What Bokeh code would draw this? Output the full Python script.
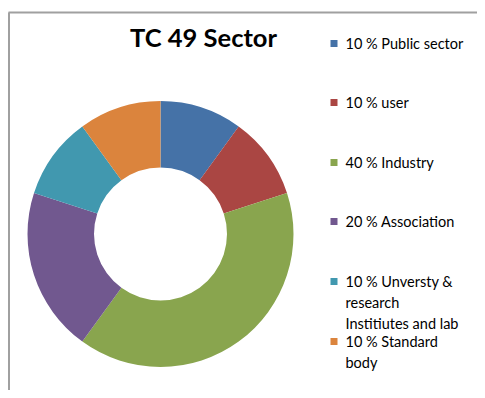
from math import pi
from bokeh.plotting import figure
from bokeh.models import Range1d, ColumnDataSource
from bokeh.core.properties import value
from bokeh.embed import file_html
from bokeh.resources import INLINE

# ---- data ----
title = "TC 49 Sector"
labels = [
    "10 % Public sector",
    "10 % user",
    "40 % Industry",
    "20 % Association",
    "10 % Unversty &\nresearch\nInstitiutes and lab",
    "10 % Standard\nbody",
]
shares = [10, 10, 40, 20, 10, 10]
colors = ["#4572A7", "#AA4643", "#89A54E", "#71588F", "#4198AF", "#DB843D"]

W, H = 477, 390
p = figure(width=W, height=H, output_backend="svg", toolbar_location=None,
           x_range=Range1d(0, W), y_range=Range1d(-H, 0),
           min_border=0, outline_line_color=None)
p.axis.visible = False
p.grid.visible = False
p.background_fill_color = "white"
p.border_fill_color = "white"

# frame lines (chart area border, left & top)
p.segment(x0=[8.5, 8], y0=[-12, -12], x1=[8.5, W], y1=[-H, -12],
          line_color="#a0a0a0", line_width=2)

# donut
total = sum(shares)
starts, ends = [], []
acc = 0
for s in shares:
    starts.append(pi / 2 - 2 * pi * acc / total)
    acc += s
    ends.append(pi / 2 - 2 * pi * acc / total)
cx, cy, r_out = 160, -233.5, 133
src = ColumnDataSource(dict(start=starts, end=ends, color=colors))
p.annular_wedge(x=cx, y=cy, inner_radius=r_out * 0.5, outer_radius=r_out,
                start_angle="start", end_angle="end", direction="clock",
                fill_color="color", line_color=None, source=src)

# title
p.text(x=[203], y=[-36], text=[title], text_font=value("Lato"),
       text_font_size="25.5px", text_font_style="bold", text_color="black",
       text_align="center", text_baseline="middle")

# legend
item_y = [43, 102, 162, 221, 281, 341]
p.rect(x=[333.5] * len(labels), y=[-v for v in item_y], width=7, height=7,
       fill_color=colors, line_color=None)
tx, ty, tt = [], [], []
for lab, y0 in zip(labels, item_y):
    for k, line in enumerate(lab.split("\n")):
        tx.append(345)
        ty.append(-(y0 + k * 20.8))
        tt.append(line)
p.text(x=tx, y=ty, text=tt, text_font=value("Lato"), text_font_size="14.5px",
       text_color="black", text_align="left", text_baseline="middle")

open("out.html", "w").write(file_html(p, INLINE))
